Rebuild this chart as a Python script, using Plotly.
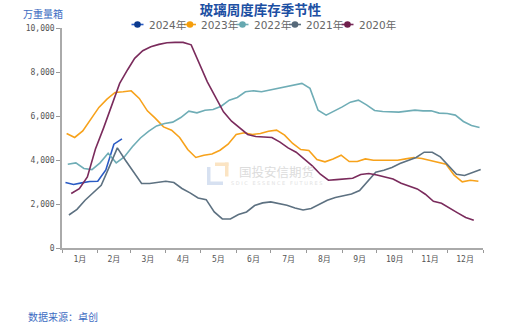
import pandas as pd
import plotly.graph_objects as go

# Weekly glass inventory (万重量箱), published every Thursday
start_2024 = "2024-01-04"
inv_2024 = [2975, 2885, 2960, 3020, 3035, 3550, 4720, 4960]

start_2023 = "2023-01-05"
inv_2023 = [5205, 5025, 5325, 5855, 6390, 6765, 7070, 7100, 7145, 6800, 6235, 5890, 5505,
            5355, 5025, 4475, 4115, 4220, 4275, 4445, 4720, 5160, 5235, 5160, 5205, 5310,
            5355, 5130, 4750, 4475, 4430, 4020, 3915, 4050, 4220, 3930, 3930, 4050, 3990,
            3990, 4005, 3990, 4050, 4115, 4065, 3990, 3915, 3810, 3310, 3005, 3080, 3035]

start_2022 = "2022-01-06"
inv_2022 = [3810, 3870, 3615, 3565, 3870, 4310, 3870, 4140, 4600, 5000, 5300, 5550, 5660,
            5720, 5930, 6220, 6145, 6265, 6295, 6445, 6720, 6845, 7100, 7145, 7100, 7175,
            7255, 7345, 7390, 7480, 7255, 6265, 6040, 6220, 6415, 6630, 6720, 6505, 6250,
            6205, 6175, 6175, 6220, 6265, 6235, 6235, 6130, 6115, 6040, 5750, 5570, 5480]

start_2021 = "2021-01-07"
inv_2021 = [1500, 1760, 2170, 2500, 2850, 3685, 4550, 3990, 3430, 2930, 2930, 2990, 3035,
            2975, 2705, 2505, 2275, 2200, 1640, 1320, 1320, 1520, 1640, 1930, 2050, 2095,
            2035, 1945, 1820, 1730, 1795, 1990, 2170, 2295, 2385, 2455, 2610, 3050, 3445,
            3535, 3660, 3840, 3990, 4115, 4355, 4355, 4140, 3750, 3355, 3295, 3415, 3565]

start_2020 = "2020-01-09"
inv_2020 = [2475, 2700, 3230, 4500, 5450, 6450, 7480, 8115, 8620, 8965, 9145, 9255, 9330,
            9345, 9345, 9235, 8400, 7555, 6870, 6190, 5765, 5460, 5160, 5070, 5035, 5025,
            4810, 4550, 4355, 4050, 3730, 3355, 3080, 3110, 3125, 3170, 3340, 3385, 3320,
            3230, 3140, 2945, 2820, 2685, 2445, 2125, 2035, 1795, 1595, 1385, 1260]

series_names = ["2024年", "2023年", "2022年", "2021年", "2020年"]
series_starts = [start_2024, start_2023, start_2022, start_2021, start_2020]
series_values = [inv_2024, inv_2023, inv_2022, inv_2021, inv_2020]
line_colors = ["#2a5bc4", "#f7a21b", "#6fadb6", "#5d7181", "#7a2b5c"]
marker_colors = ["#0b3a8e", "#f59e0b", "#66a8b0", "#56697a", "#6e1f4c"]

SEASON_YEAR = 2021  # common year every series is laid onto

fig = go.Figure()
for name, start, vals, lc in zip(series_names, series_starts, series_values, line_colors):
    dates = pd.date_range(start, periods=len(vals), freq="7D")
    season_dates = [d.replace(year=SEASON_YEAR) for d in dates]
    fig.add_trace(go.Scatter(
        x=season_dates, y=vals, mode="lines", name=name,
        showlegend=False, line=dict(color=lc, width=1.6)))

# px -> paper helpers for decoration placed around the plot area
L, R, T, B = 62, 483, 28, 248
def px(x):
    return (x - L) / (R - L)
def py(y):
    return (B - y) / (B - T)

shapes = []
annotations = []

# compact legend row: short line, dot, label
LEG_X0, LEG_PITCH, LEG_Y = 131.5, 52.5, 24.5
for i, (name, lc, mc) in enumerate(zip(series_names, line_colors, marker_colors)):
    x0 = LEG_X0 + i * LEG_PITCH
    shapes.append(dict(type="line", xref="paper", yref="paper",
                       x0=px(x0), x1=px(x0 + 12), y0=py(LEG_Y), y1=py(LEG_Y),
                       line=dict(color=lc, width=1.6)))
    r = 3.3
    shapes.append(dict(type="circle", xref="paper", yref="paper",
                       x0=px(x0 + 6 - r), x1=px(x0 + 6 + r),
                       y0=py(LEG_Y + r), y1=py(LEG_Y - r),
                       fillcolor=mc, line=dict(width=0)))
    annotations.append(dict(text=name, xref="paper", yref="paper",
                            x=px(x0 + 15), y=py(LEG_Y), xanchor="left", yanchor="middle",
                            showarrow=False,
                            font=dict(family="DejaVu Sans, Noto Sans CJK SC",
                                      size=10.5, color="#666666")))

# watermark logo
for (x0, y0, x1, y1, col) in [
    (207, 167, 210.5, 185, "#d7e1f1"),
    (207, 181.5, 223, 185, "#d7e1f1"),
    (215, 162.5, 228.5, 166, "#fbe4c3"),
    (225, 162.5, 228.5, 176.5, "#fbe4c3"),
]:
    shapes.append(dict(type="rect", xref="paper", yref="paper",
                       x0=px(x0), x1=px(x1), y0=py(y1), y1=py(y0),
                       fillcolor=col, line=dict(width=0), layer="below"))

annotations += [
    dict(text="万重量箱", xref="paper", yref="paper", x=px(21), y=py(14),
         xanchor="left", yanchor="middle", showarrow=False,
         font=dict(family="Noto Sans CJK SC", size=10, color="#3d6cc2")),
    dict(text="数据来源：卓创", xref="paper", yref="paper", x=px(26), y=py(316),
         xanchor="left", yanchor="middle", showarrow=False,
         font=dict(family="Noto Sans CJK SC", size=10, color="#3d6cc2")),
    dict(text="国投安信期货", xref="paper", yref="paper", x=px(276), y=py(171.5),
         xanchor="center", yanchor="middle", showarrow=False, borderpad=0,
         font=dict(family="Noto Sans CJK SC", size=12.5, color="#dcdcdc")),
    dict(text="S D I C   E S S E N C E   F U T U R E S", xref="paper", yref="paper",
         x=px(276.5), y=py(183), xanchor="center", yanchor="middle", showarrow=False,
         borderpad=0, font=dict(family="DejaVu Sans", size=5, color="#e2e2e2")),
]

tick_font = dict(family="DejaVu Sans Mono, Noto Sans CJK SC", size=8, color="#555555")

fig.update_layout(
    width=521, height=326,
    margin=dict(l=L, r=521 - R, t=T, b=326 - B),
    paper_bgcolor="white", plot_bgcolor="white",
    title=dict(text="<b>玻璃周度库存季节性</b>", x=0.5, xanchor="center",
               y=1 - 10.5 / 326, yanchor="middle",
               font=dict(family="Noto Sans CJK SC", size=13.5, color="#1c4fa3")),
    showlegend=False,
    xaxis=dict(type="date",
               range=[f"{SEASON_YEAR}-01-01", f"{SEASON_YEAR + 1}-01-01"],
               tick0=f"{SEASON_YEAR}-01-01", dtick="M1", tickformat="%-m月",
               ticklabelmode="period", ticks="outside", ticklen=3,
               tickcolor="#999999", showline=True, linecolor="#aaaaaa", linewidth=1.5,
               showgrid=False, zeroline=False, tickfont=tick_font),
    yaxis=dict(range=[0, 10000], tickvals=[0, 2000, 4000, 6000, 8000, 10000],
               tickformat=",d", ticks="outside", ticklen=4, tickcolor="#999999",
               showline=True, linecolor="#aaaaaa", linewidth=1.5,
               showgrid=False, zeroline=False, tickfont=tick_font),
    shapes=shapes, annotations=annotations,
)

fig.write_html("out.html")
